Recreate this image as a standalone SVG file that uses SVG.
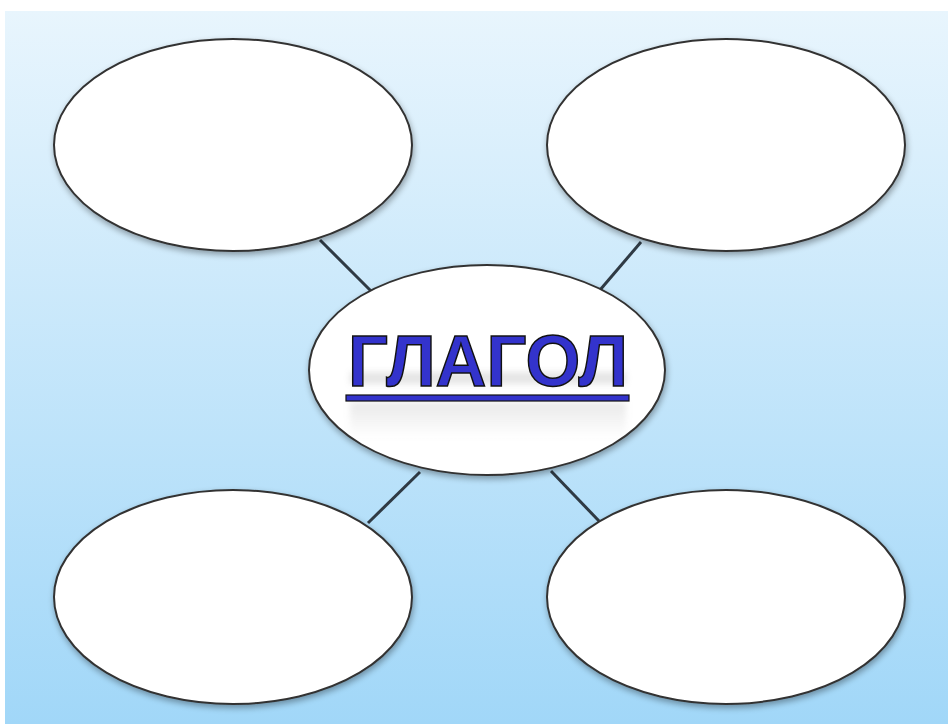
<svg xmlns="http://www.w3.org/2000/svg" width="948" height="724" viewBox="0 0 948 724">
<defs>
<linearGradient id="bg" x1="0" y1="0" x2="0" y2="1">
<stop offset="0" stop-color="#e8f5fd"/>
<stop offset="1" stop-color="#a1d7f8"/>
</linearGradient>
<linearGradient id="refl" x1="0" y1="0" x2="0" y2="1">
<stop offset="0" stop-color="#999" stop-opacity="0.22"/>
<stop offset="1" stop-color="#999" stop-opacity="0"/>
</linearGradient>
<filter id="sh" x="-10%" y="-10%" width="120%" height="130%">
<feGaussianBlur in="SourceAlpha" stdDeviation="3"/>
<feOffset dx="1" dy="3"/>
<feComponentTransfer><feFuncA type="linear" slope="0.35"/></feComponentTransfer>
<feMerge><feMergeNode/><feMergeNode in="SourceGraphic"/></feMerge>
</filter>
<filter id="blur" x="-10%" y="-50%" width="120%" height="200%">
<feGaussianBlur stdDeviation="3"/>
</filter>
</defs>
<style>
.node{fill:#fff;stroke:#333;stroke-width:2;filter:url(#sh)}
.conn{stroke:#2f3a44;stroke-width:3}
.title{font-family:"Liberation Sans",Arial,sans-serif;font-weight:bold;font-size:72px;fill:#3333cc;stroke:#111;stroke-width:1.5}
</style>
<rect x="0" y="0" width="948" height="724" fill="#fff"/>
<rect x="5" y="11" width="943" height="713" fill="url(#bg)"/>
<g id="connectors">
<line class="conn" x1="320" y1="240" x2="371" y2="291"/>
<line class="conn" x1="641" y1="242" x2="600" y2="290"/>
<line class="conn" x1="420" y1="472" x2="368" y2="523"/>
<line class="conn" x1="551" y1="471" x2="599" y2="521"/>
</g>
<g id="node-tl"><ellipse class="node" cx="233" cy="145" rx="179" ry="106"/></g>
<g id="node-tr"><ellipse class="node" cx="726" cy="145" rx="179" ry="106"/></g>
<g id="node-bl"><ellipse class="node" cx="233" cy="597" rx="179" ry="107"/></g>
<g id="node-br"><ellipse class="node" cx="726" cy="597" rx="179" ry="107"/></g>
<g id="node-center">
<ellipse class="node" cx="487" cy="370" rx="178" ry="105"/>
<rect x="350" y="372" width="276" height="12" fill="#aaa" opacity="0.3" filter="url(#blur)"/>
<rect x="350" y="402" width="276" height="36" fill="url(#refl)" filter="url(#blur)"/>
<text class="title" x="348" y="386" textLength="280" lengthAdjust="spacingAndGlyphs">ГЛАГОЛ</text>
<rect x="346" y="395" width="283" height="6" fill="#3333cc" stroke="#111" stroke-width="1.2"/>
</g>
</svg>
